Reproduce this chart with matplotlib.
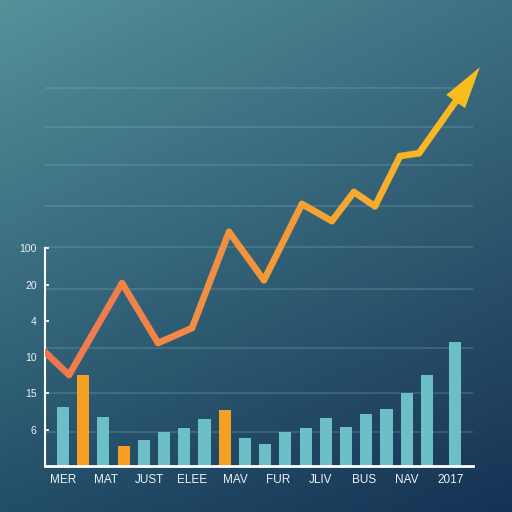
import numpy as np
import matplotlib
matplotlib.use('Agg')
import matplotlib.pyplot as plt
from matplotlib.collections import LineCollection
from matplotlib.colors import LinearSegmentedColormap
from matplotlib.patches import Polygon

plt.rcParams['font.family'] = ['Liberation Sans', 'DejaVu Sans']

# bar values (axis units), and which bars are highlighted orange
bar_values = [1.63, 2.51, 1.35, 0.55, 0.72, 0.94, 1.05, 1.29, 1.54, 0.77,
              0.61, 0.94, 1.05, 1.32, 1.07, 1.43, 1.57, 2.01, 2.51, 3.42]
bar_highlight = [False, True, False, True, False, False, False, False, True, False,
                 False, False, False, False, False, False, False, False, False, False]

# trend line vertices (x in bar slots, y in axis units), then the arrow tip
line_x = [-0.89, 0.30, 2.92, 4.70, 6.38, 8.21, 9.94, 11.82, 13.30, 14.39, 15.43, 16.67, 17.61]
line_y = [3.14, 2.51, 5.04, 3.39, 3.80, 6.45, 5.12, 7.22, 6.75, 7.55, 7.16, 8.54, 8.62]
arrow_tip = (20.62, 10.99)

x_labels = ['MER', 'MAT', 'JUST', 'ELEE', 'MAV', 'FUR', 'JLIV', 'BUS', 'NAV', '2017']
y_labels = ['6', '15', '10', '4', '20', '100']
grid_levels = [0.94, 2.01, 3.25, 4.88, 6.03, 7.16, 8.29, 9.34, 10.41]

fig = plt.figure(figsize=(5.12, 5.12), dpi=100)

# background gradient
bg = fig.add_axes([0, 0, 1, 1])
bg.set_axis_off()
tl = np.array([84, 146, 154]) / 255
tr = np.array([62, 112, 130]) / 255
bl = np.array([34, 78, 104]) / 255
br = np.array([22, 50, 84]) / 255
u = np.linspace(0, 1, 256)[None, :, None]
v = np.linspace(0, 1, 256)[:, None, None]
img = (1 - v) * ((1 - u) * tl + u * tr) + v * ((1 - u) * bl + u * br)
bg.imshow(img, extent=[0, 1, 0, 1], aspect='auto', origin='upper')

ax = fig.add_axes([45 / 512, 46 / 512, 428 / 512, 426 / 512])
ax.patch.set_alpha(0)
ax.set_xlim(-0.89, 20.28)
ax.set_ylim(0, 11.74)

for g in grid_levels:
    ax.axhline(g, color='#86b8c4', alpha=0.3, lw=1.1, zorder=1)

xs = np.arange(len(bar_values), dtype=float)
xs[-1] = 19.4
colors = ['#f5a024' if h else '#6cbfc6' for h in bar_highlight]
ax.bar(xs, bar_values, width=0.6, color=colors, zorder=2)

# arrow head geometry worked out in pixels, then mapped back to data
to_px = ax.transData
tip_px = to_px.transform(arrow_tip)
last_px = to_px.transform((line_x[-1], line_y[-1]))
d = tip_px - last_px
d = d / np.hypot(*d)
n = np.array([-d[1], d[0]])
base_px = tip_px - 42 * d
head_px = np.array([tip_px, base_px + 11.5 * n, base_px - 11.5 * n])
head = to_px.inverted().transform(head_px)
base = to_px.inverted().transform(base_px + 4 * d)

# gradient trend line
cmap = LinearSegmentedColormap.from_list('trend', ['#ef7452', '#f28a44', '#f5a532', '#f8bf1f'])
pts = np.column_stack([line_x + [base[0]], line_y + [base[1]]])
segs = np.stack([pts[:-1], pts[1:]], axis=1)
mids = (segs[:, 0, 0] + segs[:, 1, 0]) / 2
seg_colors = cmap((mids - line_x[0]) / (arrow_tip[0] - line_x[0]))
lc = LineCollection(segs, colors=seg_colors, linewidths=4.8, capstyle='round',
                    joinstyle='round', zorder=3)
ax.add_collection(lc)
ax.add_patch(Polygon(head, closed=True, facecolor='#f7bd1f', edgecolor='none',
                     zorder=4, clip_on=False))

ax.set_yticks(range(1, len(y_labels) + 1))
ax.set_yticklabels(y_labels, fontsize=7.5, color='#eef3f5')
ax.set_xticks(np.linspace(0, 19.15, len(x_labels)))
ax.set_xticklabels(x_labels, fontsize=8.5, color='#eef3f5')
ax.tick_params(axis='y', direction='in', length=3, width=1.2, color='white', pad=6)
ax.tick_params(axis='x', length=0, pad=6)

for s in ['top', 'right']:
    ax.spines[s].set_visible(False)
ax.spines['left'].set_color('white')
ax.spines['left'].set_linewidth(1.5)
ax.spines['left'].set_bounds(0, 6)
ax.spines['bottom'].set_color('white')
ax.spines['bottom'].set_linewidth(2)

fig.savefig('out.png', dpi=100)
